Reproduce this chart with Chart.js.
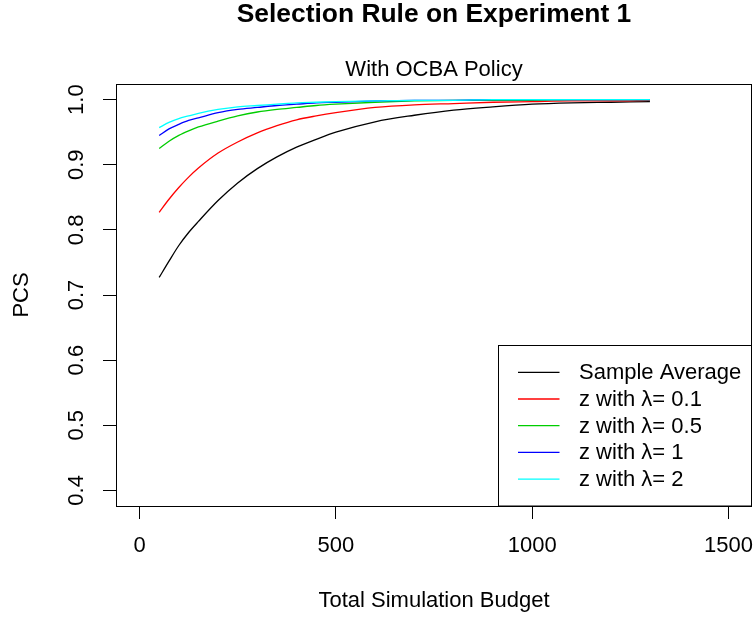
<!DOCTYPE html>
<html>
<head>
<meta charset="utf-8">
<script src="https://cdn.jsdelivr.net/npm/chart.js@4/dist/chart.umd.min.js"></script>
<style>
  html, body { margin: 0; padding: 0; background: #ffffff; }
  canvas { display: block; }
</style>
</head>
<body>
<canvas id="c" width="756" height="617"></canvas>
<script>
// ---- data ----
const budget = [50, 75, 100, 125, 150, 200, 250, 300, 350, 400, 450, 500, 600, 700, 800, 900, 1000, 1100, 1200, 1300];
const sampleAverage = [0.727, 0.752, 0.776, 0.796, 0.813, 0.845, 0.872, 0.894, 0.912, 0.927, 0.939, 0.950, 0.966, 0.976, 0.984, 0.989, 0.993, 0.995, 0.996, 0.997];
const zLambda01 = [0.827, 0.847, 0.865, 0.881, 0.895, 0.918, 0.935, 0.949, 0.960, 0.969, 0.975, 0.980, 0.988, 0.992, 0.994, 0.996, 0.997, 0.998, 0.998, 0.999];
const zLambda05 = [0.925, 0.936, 0.945, 0.952, 0.958, 0.967, 0.975, 0.981, 0.985, 0.988, 0.991, 0.993, 0.996, 0.998, 0.999, 0.999, 0.999, 1.000, 1.000, 1.000];
const zLambda1 = [0.945, 0.955, 0.962, 0.968, 0.972, 0.980, 0.985, 0.988, 0.991, 0.993, 0.995, 0.996, 0.998, 0.999, 0.999, 1.000, 1.000, 1.000, 1.000, 1.000];
const zLambda2 = [0.957, 0.965, 0.971, 0.975, 0.979, 0.985, 0.989, 0.991, 0.993, 0.995, 0.996, 0.997, 0.998, 0.999, 0.999, 1.000, 1.000, 1.000, 1.000, 1.000];
const seriesLabels = ["Sample Average", "z with \u03bb= 0.1", "z with \u03bb= 0.5", "z with \u03bb= 1", "z with \u03bb= 2"];
const seriesColors = ["#000000", "#ff0000", "#00cd00", "#0000ff", "#00ffff"];
const xTicks = [0, 500, 1000, 1500];
const yTicks = [0.4, 0.5, 0.6, 0.7, 0.8, 0.9, 1.0];
const mainTitle = "Selection Rule on Experiment 1";
const subTitle = "With OCBA Policy";
const xTitle = "Total Simulation Budget";
const yTitle = "PCS";

const FONT = '"Liberation Sans", Arial, Helvetica, sans-serif';
const seriesValues = [sampleAverage, zLambda01, zLambda05, zLambda1, zLambda2];

const datasets = seriesValues.map((vals, i) => ({
  label: seriesLabels[i],
  data: budget.map((b, k) => ({ x: b, y: vals[k] })),
  borderColor: seriesColors[i],
  backgroundColor: seriesColors[i],
  borderWidth: 1.3,
  pointRadius: 0,
  fill: false,
  cubicInterpolationMode: 'monotone',
  order: seriesValues.length - i
}));

const decorPlugin = {
  id: 'decor',
  afterDraw(chart) {
    const ctx = chart.ctx;
    const a = chart.chartArea;
    ctx.save();
    // plot box
    ctx.strokeStyle = '#000';
    ctx.lineWidth = 1;
    ctx.strokeRect(Math.round(a.left) + 0.5, Math.round(a.top) + 0.5, Math.round(a.right - a.left) - 1, Math.round(a.bottom - a.top));

    // y tick labels (rotated, as in R)
    const ys = chart.scales.y;
    ctx.fillStyle = '#000';
    ctx.font = '22px ' + FONT;
    ctx.textAlign = 'center';
    ctx.textBaseline = 'middle';
    ys.ticks.forEach(t => {
      const py = ys.getPixelForValue(t.value);
      ctx.save();
      ctx.translate(76, py);
      ctx.rotate(-Math.PI / 2);
      ctx.fillText(t.value.toFixed(1), 0, 1);
      ctx.restore();
    });

    // titles
    const cx = (a.left + a.right) / 2;
    ctx.font = 'bold 26.4px ' + FONT;
    ctx.fillText(mainTitle, cx, 15);
    ctx.font = '22px ' + FONT;
    ctx.fillText(subTitle, cx, 70);
    ctx.fillText(xTitle, cx, 601);
    ctx.save();
    ctx.translate(22, (a.top + a.bottom) / 2);
    ctx.rotate(-Math.PI / 2);
    ctx.fillText(yTitle, 0, 0);
    ctx.restore();

    // legend (bottom right)
    const lx0 = 498.5, ly0 = 345.5, lx1 = Math.round(a.right), ly1 = a.bottom;
    ctx.fillStyle = '#fff';
    ctx.fillRect(lx0, ly0, lx1 - lx0, ly1 - ly0);
    ctx.strokeStyle = '#000';
    ctx.lineWidth = 1;
    ctx.strokeRect(lx0, ly0, lx1 - lx0 - 0.5, ly1 - ly0);
    ctx.textAlign = 'left';
    ctx.textBaseline = 'middle';
    ctx.font = '22px ' + FONT;
    chart.data.datasets.forEach((ds, i) => {
      const y = 372.3 + i * 26.7;
      ctx.strokeStyle = ds.borderColor;
      ctx.lineWidth = 1.3;
      ctx.beginPath();
      ctx.moveTo(518, y);
      ctx.lineTo(559.5, y);
      ctx.stroke();
      ctx.fillStyle = '#000';
      ctx.fillText(ds.label, 579, y + 1);
    });
    ctx.restore();
  }
};

new Chart(document.getElementById('c'), {
  type: 'line',
  data: { datasets },
  plugins: [decorPlugin],
  options: {
    responsive: false,
    animation: false,
    devicePixelRatio: 1,
    layout: { padding: { top: 84, right: 4, bottom: 0, left: 0 } },
    plugins: { legend: { display: false }, tooltip: { enabled: false }, title: { display: false } },
    scales: {
      x: {
        type: 'linear',
        min: -60,
        max: 1560,
        afterBuildTicks: s => { s.ticks = xTicks.map(v => ({ value: v })); },
        afterFit: s => { s.height = 111; s.paddingLeft = 0; s.paddingRight = 0; s.paddingTop = 0; s.paddingBottom = 0; },
        grid: { display: true, drawOnChartArea: false, drawTicks: true, tickLength: 13, color: '#000', lineWidth: 1 },
        border: { display: false },
        ticks: {
          autoSkip: false, maxRotation: 0, minRotation: 0, padding: 14,
          color: '#000', font: { family: FONT, size: 22 },
          callback: v => String(v)
        }
      },
      y: {
        type: 'linear',
        min: 0.376,
        max: 1.024,
        afterBuildTicks: s => { s.ticks = yTicks.map(v => ({ value: v })); },
        afterFit: s => { s.width = 116; s.paddingLeft = 0; s.paddingRight = 0; s.paddingTop = 0; s.paddingBottom = 0; },
        grid: { display: true, drawOnChartArea: false, drawTicks: true, tickLength: 13, color: '#000', lineWidth: 1 },
        border: { display: false },
        ticks: { display: false }
      }
    }
  }
});
</script>
</body>
</html>
